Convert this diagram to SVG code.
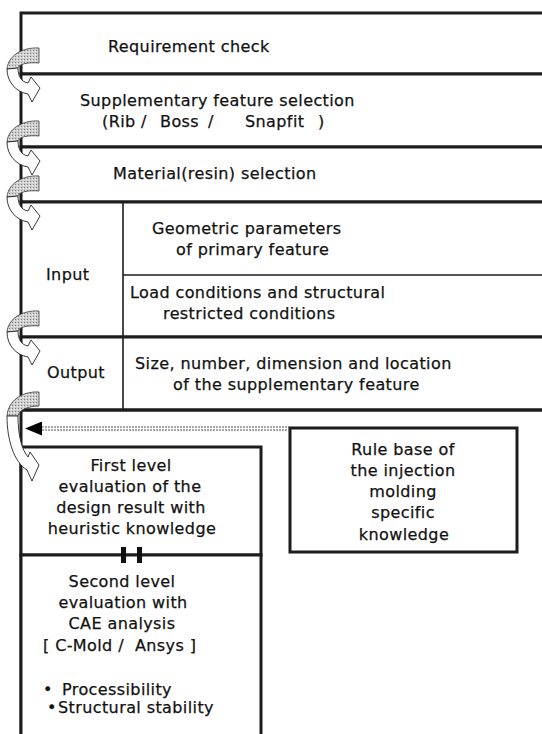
<svg xmlns="http://www.w3.org/2000/svg" width="542" height="734" viewBox="0 0 542 734">
<defs>
<style>
.row{fill:#fff;stroke:#1c1c1c;stroke-width:3}
.cell{fill:none;stroke:#1c1c1c;stroke-width:1.6}
.box{fill:#fff;stroke:#1c1c1c;stroke-width:3}
.shade{fill:url(#stip);stroke:#333;stroke-width:0.8}
.curlw{fill:#fff;stroke:#222;stroke-width:0.9}
.flow{stroke:#555;stroke-width:1;stroke-dasharray:2 1;fill:none}
text{font-family:"DejaVu Sans","Liberation Sans",sans-serif;font-size:16px;fill:#111;stroke:#111;stroke-width:0.25;letter-spacing:0.4px}
.c{text-anchor:middle}
</style>
<pattern id="stip" width="3" height="3" patternUnits="userSpaceOnUse">
<rect width="3" height="3" fill="#cfcfcf"/><rect width="1" height="1" fill="#7a7a7a"/><rect x="2" y="1" width="1" height="1" fill="#f4f4f4"/>
</pattern>
<marker id="tri" viewBox="0 0 17 14" refX="17" refY="7" markerWidth="17" markerHeight="14" markerUnits="userSpaceOnUse" orient="auto">
<path d="M0,0 L17,7 L0,14 Z" fill="#000"/>
</marker>
<g id="curl">
<path class="shade" d="M39,-26 C22,-27 8,-18 7,-5 L18,-6 C19,-10 28,-12 39,-11 Z"/>
<path class="curlw" d="M7,-5 C7,8 16,18 28,20 L32,28 L40,14 L31,3 L28,9 C22,8 18,3 18,-6 Z"/>
</g>
</defs>
<rect width="542" height="734" fill="#fff"/>

<g id="n-requirement">
<rect class="row" x="21" y="13" width="530" height="61"/>
<text x="108" y="52">Requirement check</text>
</g>
<g id="n-supplementary">
<rect class="row" x="21" y="74" width="530" height="73"/>
<text x="80" y="106">Supplementary feature selection</text>
<text y="127"><tspan x="102">(Rib</tspan><tspan x="141">/</tspan><tspan x="160">Boss</tspan><tspan x="208">/</tspan><tspan x="245">Snapfit</tspan><tspan x="318">)</tspan></text>
</g>
<g id="n-material">
<rect class="row" x="21" y="147" width="530" height="55"/>
<text x="113" y="179">Material(resin) selection</text>
</g>
<g id="n-input">
<rect class="row" x="21" y="202" width="530" height="135"/>
<line class="cell" x1="123" y1="202" x2="123" y2="337"/>
<text x="46" y="280">Input</text>
</g>
<g id="n-geometric">
<line class="cell" x1="123" y1="275" x2="545" y2="275"/>
<text x="152" y="234">Geometric parameters</text>
<text x="176" y="255">of primary feature</text>
</g>
<g id="n-load">
<text x="130" y="298">Load conditions and structural</text>
<text x="163" y="319">restricted conditions</text>
</g>
<g id="n-output">
<rect class="row" x="21" y="337" width="530" height="73"/>
<line class="cell" x1="123" y1="337" x2="123" y2="410"/>
<text x="47" y="378">Output</text>
</g>
<g id="n-size">
<text x="135" y="369">Size, number, dimension and location</text>
<text x="173" y="390">of the supplementary feature</text>
</g>
<g id="frame">
<line x1="21" y1="410" x2="21" y2="740" stroke="#1c1c1c" stroke-width="3"/>
<line x1="21" y1="410" x2="545" y2="410" stroke="#1c1c1c" stroke-width="3"/>
</g>
<g id="n-first">
<rect class="box" x="21" y="447" width="240" height="108"/>
<text class="c" x="131" y="471">First level</text>
<text class="c" x="130" y="492">evaluation of the</text>
<text class="c" x="131" y="513">design result with</text>
<text class="c" x="132" y="534">heuristic knowledge</text>
</g>
<g id="n-second">
<rect class="box" x="21" y="555" width="240" height="190"/>
<text class="c" x="122" y="587">Second level</text>
<text class="c" x="123" y="608">evaluation with</text>
<text class="c" x="122" y="629">CAE analysis</text>
<text x="43" y="651" xml:space="preserve">[ C-Mold /  Ansys ]</text>
<text x="43" y="695">•</text><text x="62" y="695">Processibility</text>
<text x="47" y="713">•</text><text x="58" y="713">Structural stability</text>
</g>
<g id="n-rulebase">
<rect class="box" x="290" y="428" width="227" height="124"/>
<text class="c" x="403" y="455">Rule base of</text>
<text class="c" x="403" y="476">the injection</text>
<text class="c" x="403" y="497">molding</text>
<text class="c" x="403" y="518">specific</text>
<text class="c" x="404" y="540">knowledge</text>
</g>

<g id="connectors">
<line class="flow" x1="290" y1="427" x2="40" y2="427"/>
<line class="flow" x1="290" y1="430" x2="40" y2="430"/>
<line x1="290" y1="428.5" x2="25" y2="428.5" stroke="#fff" stroke-opacity="0" stroke-width="1" marker-end="url(#tri)"/>
<rect x="121" y="547" width="5" height="16" fill="#111"/>
<rect x="137" y="547" width="5" height="16" fill="#111"/>
<use href="#curl" y="74"/>
<use href="#curl" y="147"/>
<use href="#curl" y="202"/>
<use href="#curl" y="337"/>
<path class="shade" d="M39,392 C22,391 8,401 7,416 L18,416 C19,410 28,406 39,406 Z"/>
<path class="curlw" d="M7,416 C7,440 14,462 27,470 L32,481 L39,465 L30,452 L28,457 C22,450 18,436 18,416 Z"/>
</g>
</svg>
